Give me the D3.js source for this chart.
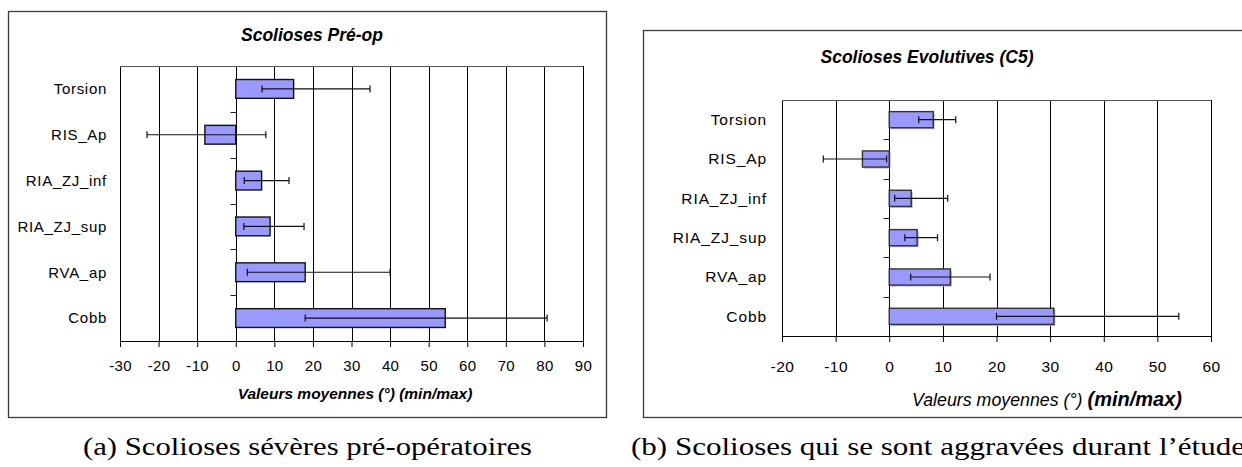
<!DOCTYPE html>
<html>
<head>
<meta charset="utf-8">
<script src="https://cdn.jsdelivr.net/npm/d3@7"></script>
<style>
  html, body { margin: 0; padding: 0; background: #fff; }
  svg { display: block; }
  text { font-family: "Liberation Sans", Arial, Helvetica, sans-serif; fill: #000; }
  .caption { font-family: "Liberation Serif", "Times New Roman", Times, serif; }
</style>
</head>
<body>
<svg id="fig" width="1242" height="467"></svg>
<script>
// Measured angles (degrees): mean with min / max range, per measure
const categories = ["Torsion", "RIS_Ap", "RIA_ZJ_inf", "RIA_ZJ_sup", "RVA_ap", "Cobb"];

const preopMean = [15.0, -8.0, 6.7, 8.9, 18.0, 54.3];
const preopMin  = [6.8, -23.0, 2.2, 2.1, 3.0, 18.0];
const preopMax  = [34.8, 7.8, 13.8, 17.7, 40.0, 80.7];

const evolMean = [8.2, -5.0, 4.1, 5.2, 11.4, 30.7];
const evolMin  = [5.5, -12.3, 1.0, 2.9, 4.0, 20.0];
const evolMax  = [12.4, -0.5, 10.9, 9.0, 18.8, 54.0];

const preopTicks = [-30, -20, -10, 0, 10, 20, 30, 40, 50, 60, 70, 80, 90];
const evolTicks  = [-20, -10, 0, 10, 20, 30, 40, 50, 60];

const svg = d3.select("#fig");
const SANS = "'Liberation Sans', Arial, Helvetica, sans-serif";

function drawPanel(p) {
  const g = svg.append("g");

  // outer chart frame
  g.append("rect")
    .attr("x", p.frame[0] + 0.5).attr("y", p.frame[1] + 0.5)
    .attr("width", p.frame[2]).attr("height", p.frame[3])
    .attr("fill", "#fff").attr("stroke", "#3a3a3a").attr("stroke-width", 1.3);

  const x = d3.scaleLinear()
    .domain([p.ticks[0], p.ticks[p.ticks.length - 1]])
    .range([p.plot.left, p.plot.right]);
  const y = d3.scaleBand()
    .domain(categories)
    .range([p.plot.top, p.plot.bottom])
    .padding(0);

  const rows = categories.map((c, i) => ({ c, mean: p.mean[i], lo: p.min[i], hi: p.max[i] }));

  // vertical gridlines
  g.append("g").selectAll("line").data(p.ticks).join("line")
    .attr("x1", d => Math.round(x(d)) + 0.5).attr("x2", d => Math.round(x(d)) + 0.5)
    .attr("y1", p.plot.top).attr("y2", p.plot.bottom)
    .attr("stroke", "#000").attr("stroke-width", 1);

  // plot-area border (top)
  g.append("line")
    .attr("x1", x.range()[0]).attr("x2", x.range()[1])
    .attr("y1", p.plot.top + 0.5).attr("y2", p.plot.top + 0.5)
    .attr("stroke", "#555").attr("stroke-width", 1);

  // x axis with ticks below; labels use a plain hyphen for negatives
  const xAxis = d3.axisBottom(x).tickValues(p.ticks).tickSize(p.tickLen).tickSizeOuter(0)
    .tickFormat(d => String(d));
  const ax = g.append("g")
    .attr("transform", `translate(0,${p.plot.bottom})`)
    .call(xAxis);
  ax.select(".domain").attr("stroke", "#000");
  ax.selectAll(".tick line").attr("stroke", "#000");
  ax.selectAll(".tick text")
    .attr("y", p.tickLabelY - p.plot.bottom)
    .attr("dy", "0.35em")
    .style("font-family", SANS)
    .style("font-size", p.tickFont + "px")
    .style("letter-spacing", p.tickSpacing + "px")
    .attr("fill", "#000");

  // category axis sits on the zero line, ticks between categories
  const boundaries = categories.slice(1).map(c => y(c));
  g.append("g").selectAll("line").data(boundaries).join("line")
    .attr("x1", Math.round(x(0)) + 0.5 - p.tickLen).attr("x2", Math.round(x(0)) + 0.5)
    .attr("y1", d => Math.round(d) + 0.5).attr("y2", d => Math.round(d) + 0.5)
    .attr("stroke", "#222");

  // category labels
  g.append("g").selectAll("text").data(categories).join("text")
    .attr("x", p.catLabelX).attr("y", d => y(d) + y.bandwidth() / 2)
    .attr("dy", "0.35em").attr("text-anchor", "end")
    .style("font-size", p.catFont + "px")
    .style("letter-spacing", p.catSpacing + "px")
    .text(d => d);

  // bars
  const barH = y.bandwidth() * 0.41;
  if (p.shadow) {
    g.append("g").selectAll("rect").data(rows).join("rect")
      .attr("x", d => Math.min(x(0), x(d.mean)) + 1.5)
      .attr("y", d => y(d.c) + (y.bandwidth() - barH) / 2 + 1.5)
      .attr("width", d => Math.abs(x(d.mean) - x(0)))
      .attr("height", barH)
      .attr("fill", "#b8b8b8");
  }
  g.append("g").selectAll("rect").data(rows).join("rect")
    .attr("x", d => Math.min(x(0), x(d.mean)))
    .attr("y", d => y(d.c) + (y.bandwidth() - barH) / 2)
    .attr("width", d => Math.abs(x(d.mean) - x(0)))
    .attr("height", barH)
    .attr("fill", "#9999ff")
    .attr("stroke", p.barStroke).attr("stroke-width", 1.4);

  // min / max range bars
  const eb = g.append("g").attr("stroke", "#111").attr("stroke-width", 1.2);
  const cy = d => y(d.c) + y.bandwidth() / 2;
  eb.selectAll("line.range").data(rows).join("line").attr("class", "range")
    .attr("x1", d => x(d.lo)).attr("x2", d => x(d.hi))
    .attr("y1", cy).attr("y2", cy);
  eb.selectAll("line.lo").data(rows).join("line").attr("class", "lo")
    .attr("x1", d => x(d.lo)).attr("x2", d => x(d.lo))
    .attr("y1", d => cy(d) - 3.5).attr("y2", d => cy(d) + 3.5);
  eb.selectAll("line.hi").data(rows).join("line").attr("class", "hi")
    .attr("x1", d => x(d.hi)).attr("x2", d => x(d.hi))
    .attr("y1", d => cy(d) - 3.5).attr("y2", d => cy(d) + 3.5);

  // chart title
  g.append("text")
    .attr("x", p.titleX).attr("y", p.titleY).attr("dy", "0.35em")
    .attr("text-anchor", "middle")
    .style("font-size", p.titleFont + "px")
    .style("font-weight", "bold").style("font-style", "italic")
    .text(p.title);

  // axis title
  const at = g.append("text")
    .attr("x", p.axisTitleX).attr("y", p.axisTitleY).attr("dy", "0.35em")
    .attr("text-anchor", "middle")
    .style("font-size", p.axisFont + "px").style("font-style", "italic");
  p.axisTitle.forEach(part => {
    at.append("tspan")
      .style("font-weight", part.bold ? "bold" : "normal")
      .style("font-size", (part.size || p.axisFont) + "px")
      .text(part.text);
  });
}

drawPanel({
  frame: [8, 11, 598, 406],
  plot: { left: 120, right: 583, top: 66, bottom: 341 },
  ticks: preopTicks,
  mean: preopMean, min: preopMin, max: preopMax,
  tickLen: 6, tickLabelY: 366, tickFont: 15, tickSpacing: 0.3,
  catLabelX: 107, catFont: 15, catSpacing: 0.7,
  barStroke: "#111", shadow: false,
  title: "Scolioses Pré-op", titleX: 312, titleY: 35, titleFont: 17.5,
  axisTitle: [{ text: "Valeurs moyennes (°) (min/max)", bold: true }],
  axisTitleX: 355, axisTitleY: 394, axisFont: 15.5
});

drawPanel({
  frame: [643, 30, 620, 387],
  plot: { left: 782, right: 1211, top: 100, bottom: 336 },
  ticks: evolTicks,
  mean: evolMean, min: evolMin, max: evolMax,
  tickLen: 6, tickLabelY: 367, tickFont: 15.5, tickSpacing: 0.5,
  catLabelX: 767, catFont: 15.5, catSpacing: 0.9,
  barStroke: "#333", shadow: true,
  title: "Scolioses Evolutives (C5)", titleX: 927, titleY: 57, titleFont: 17.5,
  axisTitle: [{ text: "Valeurs moyennes (°)  ", bold: false, size: 17.8 }, { text: "(min/max)", bold: true, size: 20 }],
  axisTitleX: 1047, axisTitleY: 400, axisFont: 17.8
});

// sub-figure captions
svg.append("text").attr("class", "caption")
  .attr("x", 83).attr("y", 455)
  .attr("textLength", 449).attr("lengthAdjust", "spacingAndGlyphs")
  .style("font-size", "25px")
  .text("(a) Scolioses sévères pré-opératoires");
svg.append("text").attr("class", "caption")
  .attr("x", 631).attr("y", 455)
  .attr("textLength", 614).attr("lengthAdjust", "spacingAndGlyphs")
  .style("font-size", "25px")
  .text("(b) Scolioses qui se sont aggravées durant l’étude");
</script>
</body>
</html>
